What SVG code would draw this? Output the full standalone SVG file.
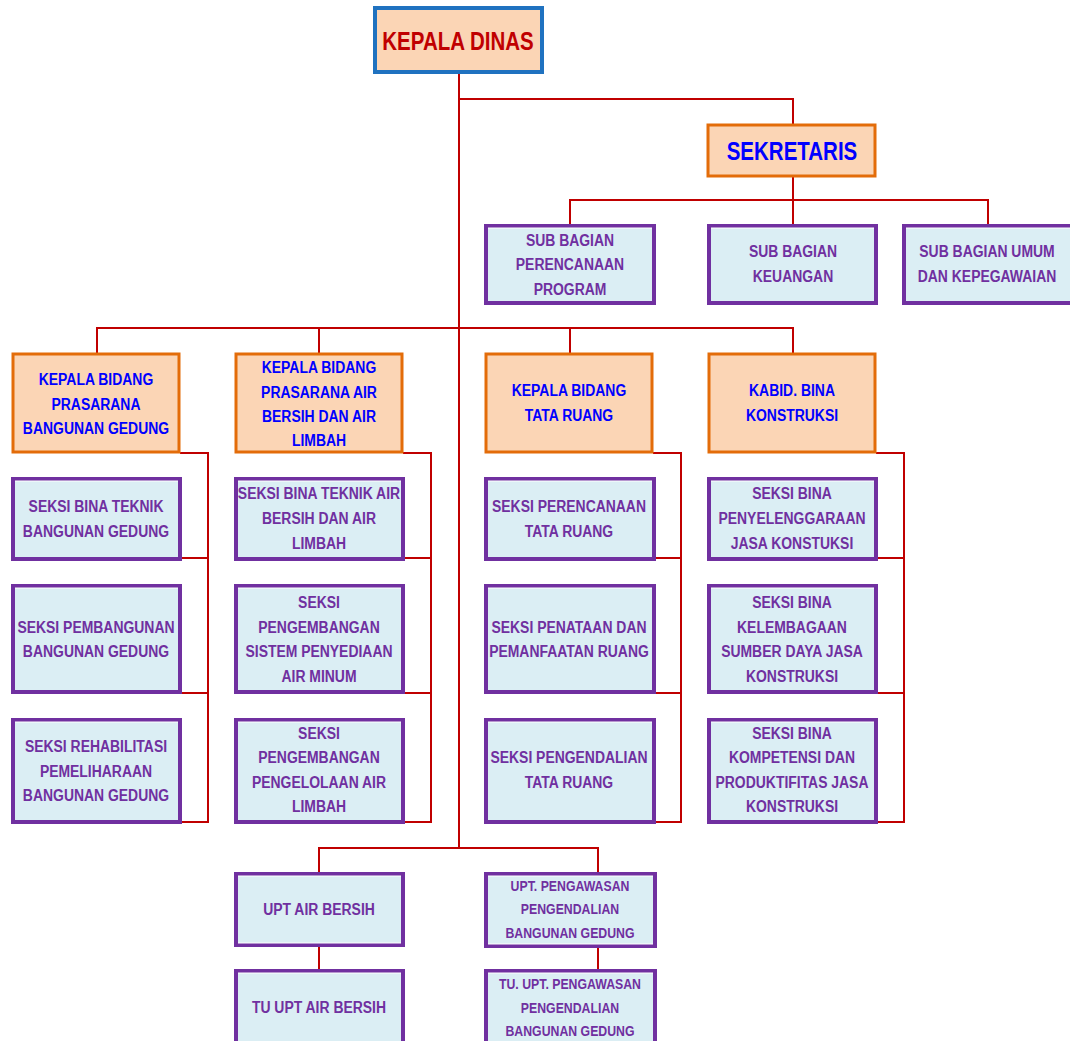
<svg xmlns="http://www.w3.org/2000/svg" width="1070" height="1041" viewBox="0 0 1070 1041">
<style>
.bg{fill:#ffffff}
.top{fill:#FBD5B5;stroke:#1F72C0;stroke-width:4}
.head{fill:#FBD5B5;stroke:#E36C09;stroke-width:3}
.sub{fill:#DBEEF4;stroke:#7030A0;stroke-width:4}
.gap{stroke:#ffffff;stroke-width:1;fill:none}
.ln{stroke:#C00000;stroke-width:2;fill:none}
text{font-family:"Liberation Sans Narrow","Arial Narrow","Liberation Sans",sans-serif;font-weight:bold;text-anchor:middle;transform-box:fill-box;transform-origin:center;transform:scaleX(0.82)}
.tr{fill:#C00000;font-size:25px}
.tb{fill:#0000FF;font-size:17px}
.tbl{fill:#0000FF;font-size:25px}
.tp{fill:#7030A0;font-size:17px}
.ts{fill:#7030A0;font-size:15px}
</style>
<rect class="bg" x="0" y="0" width="1070" height="1041"/>
<g id="connectors">
<path class="ln" d="M459,73 V848"/>
<path class="ln" d="M459,99 H793 V124"/>
<path class="ln" d="M793,176 V225 M570,225 V200 H988 V225"/>
<path class="ln" d="M97,353 V328 H793 V353 M319,328 V353 M570,328 V353"/>
<path class="ln" d="M180,453 H208 V822 H181 M181,558 H208 M181,693 H208"/>
<path class="ln" d="M403,453 H431 V822 H404 M404,558 H431 M404,693 H431"/>
<path class="ln" d="M653,453 H681 V822 H655 M655,558 H681 M655,693 H681"/>
<path class="ln" d="M876,453 H904 V822 H877 M877,558 H904 M877,693 H904"/>
<path class="ln" d="M319,873 V848 H598 V873"/>
<path class="ln" d="M319,946 V970 M598,946 V970"/>
</g>
<g id="kepala-dinas">
<rect class="top" x="375" y="8" width="167" height="64"/>
<text class="tr" x="458" y="50">KEPALA DINAS</text>
</g>
<g id="sekretaris">
<rect class="head" x="708" y="125" width="167" height="51"/>
<text class="tbl" x="792" y="160">SEKRETARIS</text>
</g>
<g id="sub-perencanaan">
<rect class="sub" x="486" y="226" width="168" height="77"/>
<line class="gap" x1="488" y1="228" x2="652" y2="228"/>
<text class="tp" x="570" y="246">SUB BAGIAN</text>
<text class="tp" x="570" y="270">PERENCANAAN</text>
<text class="tp" x="570" y="295">PROGRAM</text>
</g>
<g id="sub-keuangan">
<rect class="sub" x="709" y="226" width="167" height="77"/>
<line class="gap" x1="711" y1="228" x2="874" y2="228"/>
<text class="tp" x="793" y="257">SUB BAGIAN</text>
<text class="tp" x="793" y="282">KEUANGAN</text>
</g>
<g id="sub-umum">
<rect class="sub" x="904" y="226" width="170" height="77"/>
<line class="gap" x1="906" y1="228" x2="1070" y2="228"/>
<text class="tp" x="987" y="257">SUB BAGIAN UMUM</text>
<text class="tp" x="987" y="282">DAN KEPEGAWAIAN</text>
</g>
<g id="kabid-bangunan">
<rect class="head" x="13" y="354" width="166" height="98"/>
<text class="tb" x="96" y="385">KEPALA BIDANG</text>
<text class="tb" x="96" y="410">PRASARANA</text>
<text class="tb" x="96" y="434">BANGUNAN GEDUNG</text>
</g>
<g id="kabid-air">
<rect class="head" x="236" y="354" width="166" height="98"/>
<text class="tb" x="319" y="373">KEPALA BIDANG</text>
<text class="tb" x="319" y="398">PRASARANA AIR</text>
<text class="tb" x="319" y="422">BERSIH DAN AIR</text>
<text class="tb" x="319" y="446">LIMBAH</text>
</g>
<g id="kabid-tata">
<rect class="head" x="486" y="354" width="166" height="98"/>
<text class="tb" x="569" y="396">KEPALA BIDANG</text>
<text class="tb" x="569" y="421">TATA RUANG</text>
</g>
<g id="kabid-konstruksi">
<rect class="head" x="709" y="354" width="166" height="98"/>
<text class="tb" x="792" y="396">KABID. BINA</text>
<text class="tb" x="792" y="421">KONSTRUKSI</text>
</g>
<g id="seksi-1-1">
<rect class="sub" x="13" y="479" width="167" height="80"/>
<line class="gap" x1="15" y1="481" x2="178" y2="481"/>
<text class="tp" x="96" y="512">SEKSI BINA TEKNIK</text>
<text class="tp" x="96" y="537">BANGUNAN GEDUNG</text>
</g>
<g id="seksi-1-2">
<rect class="sub" x="13" y="586" width="167" height="106"/>
<line class="gap" x1="15" y1="588" x2="178" y2="588"/>
<text class="tp" x="96" y="633">SEKSI PEMBANGUNAN</text>
<text class="tp" x="96" y="657">BANGUNAN GEDUNG</text>
</g>
<g id="seksi-1-3">
<rect class="sub" x="13" y="720" width="167" height="102"/>
<line class="gap" x1="15" y1="722" x2="178" y2="722"/>
<text class="tp" x="96" y="752">SEKSI REHABILITASI</text>
<text class="tp" x="96" y="777">PEMELIHARAAN</text>
<text class="tp" x="96" y="801">BANGUNAN GEDUNG</text>
</g>
<g id="seksi-2-1">
<rect class="sub" x="236" y="479" width="167" height="80"/>
<line class="gap" x1="238" y1="481" x2="401" y2="481"/>
<text class="tp" x="319" y="499">SEKSI BINA TEKNIK AIR</text>
<text class="tp" x="319" y="524">BERSIH DAN AIR</text>
<text class="tp" x="319" y="549">LIMBAH</text>
</g>
<g id="seksi-2-2">
<rect class="sub" x="236" y="586" width="167" height="106"/>
<line class="gap" x1="238" y1="588" x2="401" y2="588"/>
<text class="tp" x="319" y="608">SEKSI</text>
<text class="tp" x="319" y="633">PENGEMBANGAN</text>
<text class="tp" x="319" y="657">SISTEM PENYEDIAAN</text>
<text class="tp" x="319" y="682">AIR MINUM</text>
</g>
<g id="seksi-2-3">
<rect class="sub" x="236" y="720" width="167" height="102"/>
<line class="gap" x1="238" y1="722" x2="401" y2="722"/>
<text class="tp" x="319" y="739">SEKSI</text>
<text class="tp" x="319" y="763">PENGEMBANGAN</text>
<text class="tp" x="319" y="788">PENGELOLAAN AIR</text>
<text class="tp" x="319" y="812">LIMBAH</text>
</g>
<g id="seksi-3-1">
<rect class="sub" x="486" y="479" width="168" height="80"/>
<line class="gap" x1="488" y1="481" x2="652" y2="481"/>
<text class="tp" x="569" y="512">SEKSI PERENCANAAN</text>
<text class="tp" x="569" y="537">TATA RUANG</text>
</g>
<g id="seksi-3-2">
<rect class="sub" x="486" y="586" width="168" height="106"/>
<line class="gap" x1="488" y1="588" x2="652" y2="588"/>
<text class="tp" x="569" y="633">SEKSI PENATAAN DAN</text>
<text class="tp" x="569" y="657">PEMANFAATAN RUANG</text>
</g>
<g id="seksi-3-3">
<rect class="sub" x="486" y="720" width="168" height="102"/>
<line class="gap" x1="488" y1="722" x2="652" y2="722"/>
<text class="tp" x="569" y="763">SEKSI PENGENDALIAN</text>
<text class="tp" x="569" y="788">TATA RUANG</text>
</g>
<g id="seksi-4-1">
<rect class="sub" x="709" y="479" width="167" height="80"/>
<line class="gap" x1="711" y1="481" x2="874" y2="481"/>
<text class="tp" x="792" y="499">SEKSI BINA</text>
<text class="tp" x="792" y="524">PENYELENGGARAAN</text>
<text class="tp" x="792" y="549">JASA KONSTUKSI</text>
</g>
<g id="seksi-4-2">
<rect class="sub" x="709" y="586" width="167" height="106"/>
<line class="gap" x1="711" y1="588" x2="874" y2="588"/>
<text class="tp" x="792" y="608">SEKSI BINA</text>
<text class="tp" x="792" y="633">KELEMBAGAAN</text>
<text class="tp" x="792" y="657">SUMBER DAYA JASA</text>
<text class="tp" x="792" y="682">KONSTRUKSI</text>
</g>
<g id="seksi-4-3">
<rect class="sub" x="709" y="720" width="167" height="102"/>
<line class="gap" x1="711" y1="722" x2="874" y2="722"/>
<text class="tp" x="792" y="739">SEKSI BINA</text>
<text class="tp" x="792" y="763">KOMPETENSI DAN</text>
<text class="tp" x="792" y="788">PRODUKTIFITAS JASA</text>
<text class="tp" x="792" y="812">KONSTRUKSI</text>
</g>
<g id="upt-air">
<rect class="sub" x="236" y="874" width="167" height="71"/>
<line class="gap" x1="238" y1="876" x2="401" y2="876"/>
<line class="gap" x1="238" y1="943" x2="401" y2="943"/>
<text class="tp" x="319" y="915">UPT AIR BERSIH</text>
</g>
<g id="tu-upt-air">
<rect class="sub" x="236" y="971" width="167" height="72"/>
<line class="gap" x1="238" y1="973" x2="401" y2="973"/>
<text class="tp" x="319" y="1013">TU UPT AIR BERSIH</text>
</g>
<g id="upt-pengawasan">
<rect class="sub" x="486" y="874" width="169" height="72"/>
<line class="gap" x1="488" y1="876" x2="653" y2="876"/>
<line class="gap" x1="488" y1="944" x2="653" y2="944"/>
<text class="ts" x="570" y="891">UPT. PENGAWASAN</text>
<text class="ts" x="570" y="914">PENGENDALIAN</text>
<text class="ts" x="570" y="938">BANGUNAN GEDUNG</text>
</g>
<g id="tu-upt-pengawasan">
<rect class="sub" x="486" y="971" width="169" height="72"/>
<line class="gap" x1="488" y1="973" x2="653" y2="973"/>
<text class="ts" x="570" y="989">TU. UPT. PENGAWASAN</text>
<text class="ts" x="570" y="1013">PENGENDALIAN</text>
<text class="ts" x="570" y="1036">BANGUNAN GEDUNG</text>
</g>
</svg>
